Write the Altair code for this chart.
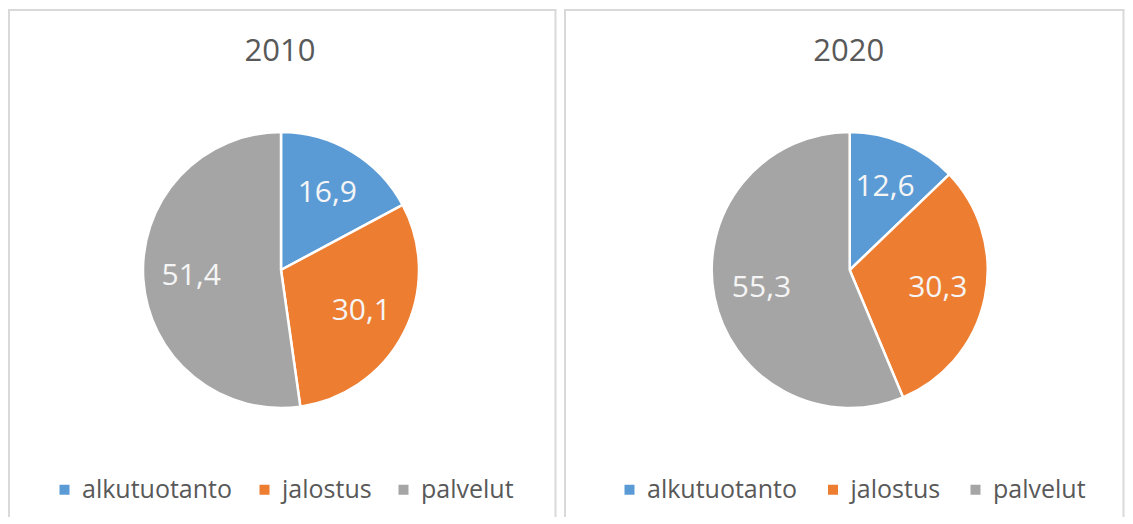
import altair as alt
import pandas as pd

years = ["2010", "2020"]
categories = ["alkutuotanto", "jalostus", "palvelut"]
values_2010 = [16.9, 30.1, 51.4]
values_2020 = [12.6, 30.3, 55.3]
colors = ["#5B9BD5", "#ED7D31", "#A5A5A5"]

rows = []
for yr, vals in zip(years, [values_2010, values_2020]):
    for i, (c, v) in enumerate(zip(categories, vals)):
        rows.append({"year": yr, "category": c, "value": v, "idx": i})
df = pd.DataFrame(rows)

FONT = "Open Sans"
TEXT_GRAY = "#595959"
BORDER = "#D9D9D9"
H = 508


def rule(**enc):
    return alt.Chart(pd.DataFrame({"d": [0]})).mark_rule(
        color=BORDER, strokeWidth=2
    ).encode(**{k: alt.value(v) for k, v in enc.items()})


def panel(year, width, cx, cy, legend_x, col_pad, left_x, right_x):
    base = alt.Chart(df).transform_filter(alt.datum.year == year).transform_calculate(
        label="replace(format(datum.value, '.1f'), '.', ',')"
    )
    color = alt.Color(
        "category:N",
        scale=alt.Scale(domain=categories, range=colors),
        sort=categories,
        legend=alt.Legend(
            title=None,
            orient="none",
            direction="horizontal",
            legendX=legend_x,
            legendY=468,
            symbolType="square",
            symbolSize=100,
            symbolStrokeWidth=0,
            labelFont=FONT,
            labelFontSize=25,
            labelColor=TEXT_GRAY,
            labelOffset=5,
            columnPadding=col_pad,
            padding=0,
        ),
    )
    theta = alt.Theta("value:Q", stack=True)
    arc = base.mark_arc(radius=138, stroke="white", strokeWidth=2.5).encode(
        theta=theta,
        order=alt.Order("idx:Q"),
        color=color,
        x=alt.value(cx),
        y=alt.value(cy),
    )
    labels = base.mark_text(
        radius=90, font=FONT, fontSize=30, fill="#F5F5F5", align="center", baseline="middle"
    ).encode(
        theta=theta,
        order=alt.Order("idx:Q"),
        text="label:N",
        x=alt.value(cx),
        y=alt.value(cy),
    )
    title = alt.Chart(pd.DataFrame({"t": [year]})).mark_text(
        font=FONT, fontSize=31, fill=TEXT_GRAY, align="center", baseline="alphabetic"
    ).encode(text="t:N", x=alt.value(cx - 1), y=alt.value(52))
    borders = [
        rule(x=left_x, y=0, y2=H),
        rule(x=right_x, y=0, y2=H),
        rule(x=left_x, x2=right_x, y=1),
    ]
    return alt.layer(*borders, arc, labels, title).properties(width=width, height=H)


p1 = panel("2010", 550, 273, 261, 44, 19, 1, 547.5)
p2 = panel("2020", 561, 285.7, 261, 53, 22.5, 1, 559.5)

chart = (
    alt.hconcat(p1, p2, spacing=6)
    .resolve_scale(color="independent", theta="independent")
    .properties(padding=0)
    .configure_view(stroke=None)
)

chart.save("out.html", embed_options={"renderer": "svg", "actions": False})
